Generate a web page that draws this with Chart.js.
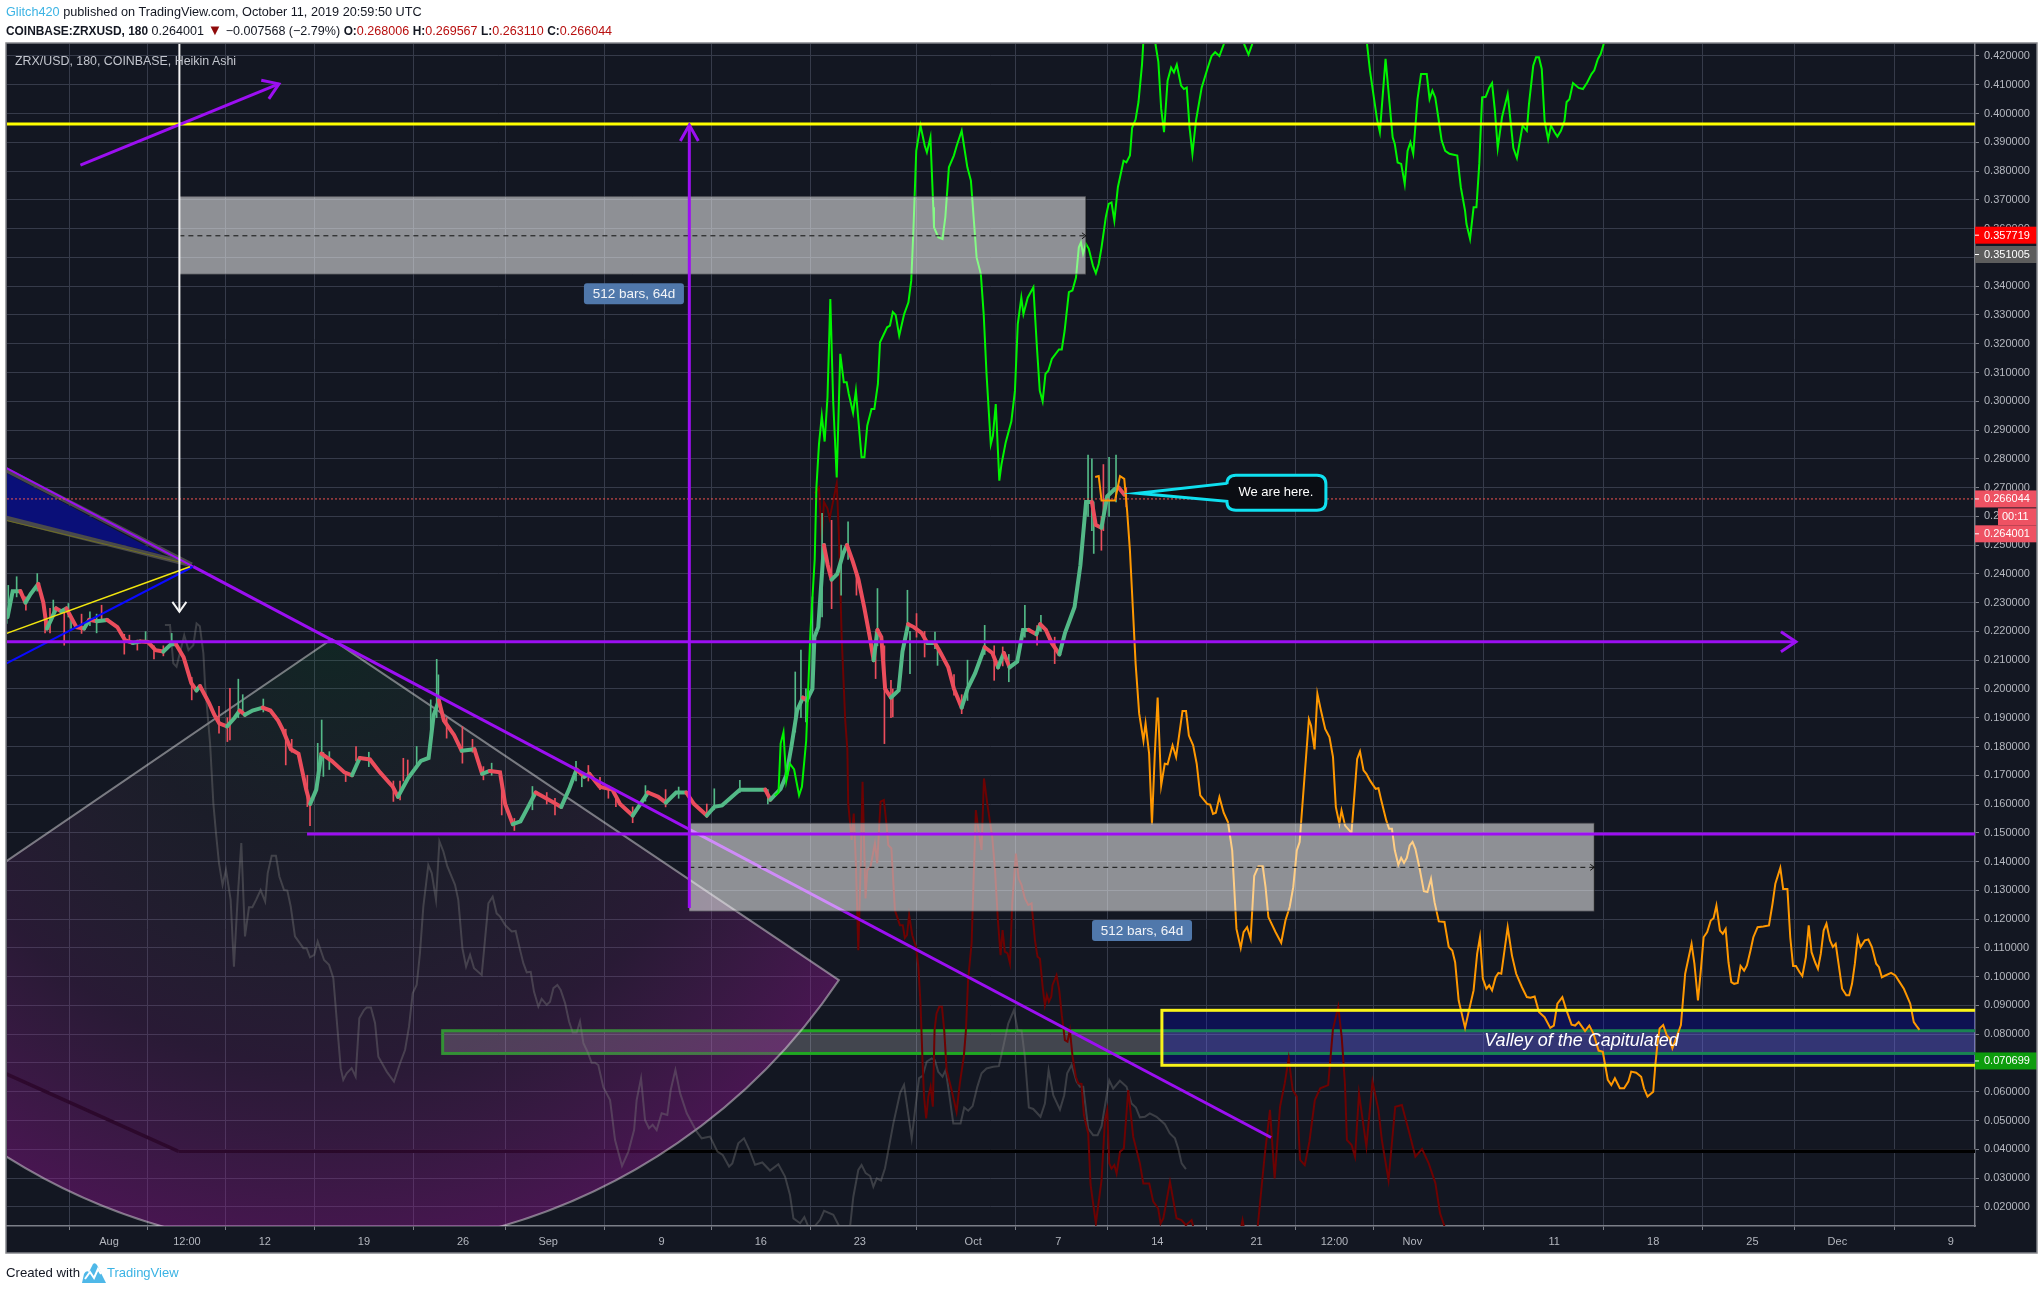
<!DOCTYPE html>
<html>
<head>
<meta charset="utf-8">
<title>ZRXUSD</title>
<script src="https://cdn.jsdelivr.net/npm/chart.js@4"></script>
<style>
html, body { margin: 0; padding: 0; background: #fff; width: 2043px; height: 1290px; overflow: hidden; font-family: "Liberation Sans", Arial, sans-serif; }
#wrap { position: relative; width: 2043px; height: 1290px; }
canvas { position: absolute; left: 0; top: 0; }
.txt { position: absolute; white-space: nowrap; color: #131722; font-size: 12.7px; line-height: 16px; }
.txt b { font-weight: bold; }
.head { font-size: 12.55px; }
.head b { font-size: 11.9px; }
.blue { color: #3bb3e4; }
.red { color: #b80f0f; }
.tri { color: #8f0a0a; font-size: 15px; }
#title { left: 15px; top: 53px; color: #c3c6ce; font-size: 12.4px; }
</style>
</head>
<body>
<div id="wrap">
<canvas id="chart" width="2043" height="1290"></canvas>
<div class="txt" style="left:6px;top:4px"><span class="blue">Glitch420</span> published on TradingView.com, October 11, 2019 20:59:50 UTC</div>
<div class="txt head" style="left:6px;top:22px"><b>COINBASE:ZRXUSD, 180</b> 0.264001 <span class="tri">▼</span> −0.007568 (−2.79%) <b>O:</b><span class="red">0.268006</span> <b>H:</b><span class="red">0.269567</span> <b>L:</b><span class="red">0.263110</span> <b>C:</b><span class="red">0.266044</span></div>
<div class="txt" id="title">ZRX/USD, 180, COINBASE, Heikin Ashi</div>
<div class="txt" style="left:6px;top:1265px;font-size:13.2px">Created with</div>
<svg style="position:absolute;left:82px;top:1263px" width="24" height="20" viewBox="0 0 24 20"><path d="M0 20 L2 11 Q4 7 7 9 L11 1 Q13 -1 15 2 L24 20 Z" fill="#4fb8e8"/><path d="M3 16 L8 9 L12 15 L16 6 L19 11" fill="none" stroke="#fff" stroke-width="2"/></svg>
<div class="txt blue" style="left:107px;top:1265px;font-size:13px">TradingView</div>
</div>
<script>
// x values are bar positions counted in days from 1 Aug 2019, y values are prices
const xTickDays = [0, 5.49, 10.98, 17.96, 24.94, 30.93, 38.91, 45.9, 52.88, 60.86, 66.85, 73.83, 80.82, 86.3, 91.79, 101.77, 108.75, 115.74, 121.72, 129.71];
const xTickLabels = ["Aug", "12:00", "12", "19", "26", "Sep", "9", "16", "23", "Oct", "7", "14", "21", "12:00", "Nov", "11", "18", "25", "Dec", "9"];
const yTickValues = [0.02, 0.03, 0.04, 0.05, 0.06, 0.07, 0.08, 0.09, 0.10, 0.11, 0.12, 0.13, 0.14, 0.15, 0.16, 0.17, 0.18, 0.19, 0.20, 0.21, 0.22,
    0.23, 0.24, 0.25, 0.26, 0.27, 0.28, 0.29, 0.30, 0.31, 0.32, 0.33, 0.34, 0.35, 0.36, 0.37, 0.38, 0.39, 0.40, 0.41, 0.42];

const candleDays = [-7.14, -6.78, -6.24, -5.88, -5.52, -4.98, -4.62, -4.37, -4.08, -3.72,
    -3.36, -3, -2.29, -1.75, -1.39, -0.85, -0.13, 0.59, 1.13, 1.67,
    2.2, 2.75, 3.28, 3.83, 4.37, 4.72, 5.26, 5.8, 6.16, 6.41,
    7.06, 7.42, 7.77, 8.31, 8.85, 9.21, 9.57, 10.11, 10.83, 11.37,
    11.91, 12.27, 12.81, 13.35, 13.89, 14.17, 14.6, 14.96, 15.68, 16.58,
    17.12, 17.66, 18.38, 19.09, 19.99, 20.35, 21.07, 21.97, 22.51, 22.87,
    23.23, 23.59, 24.3, 24.84, 25.74, 26.28, 26.82, 27.54, 27.9, 28.44,
    28.98, 29.52, 30.05, 30.59, 31.31, 31.85, 32.39, 32.93, 33.47, 33.83,
    34.55, 35.45, 35.99, 36.88, 37.42, 37.96, 38.68, 39.22, 39.94, 40.66,
    41.2, 42.1, 42.63, 43.17, 44.43, 45.15, 46.22, 46.58, 47.3, 47.7,
    48.06, 48.46, 48.87, 49.14, 49.54, 49.68, 49.95, 50.35, 50.62, 50.89,
    51.29, 51.7, 51.97, 52.37, 52.78, 53.18, 53.58, 53.85, 54.12, 54.39,
    54.66, 55.07, 55.61, 55.88, 56.28, 56.68, 57.22, 57.63, 58.17, 58.57,
    59.11, 59.51, 60.05, 60.46, 61, 61.67, 62.21, 62.61, 63.02, 63.42,
    63.96, 64.37, 64.77, 65.31, 65.58, 65.98, 66.39, 66.93, 67.33, 68,
    68.41, 68.81, 69.22, 69.49, 69.89, 70.3, 70.83, 71.1, 71.51];
const candleClose = [.225, .234, .234, .23, .233, .2365, .23, .221, .224, .228,
    .227, .228, .2215, .221, .224, .2235, .224, .2215, .217, .216,
    .2165, .2163, .2135, .213, .2155, .2155, .211, .202, .1995, .201,
    .195, .191, .188, .187, .19, .1925, .191, .1925, .1935, .1925,
    .189, .1855, .179, .1775, .165, .16, .165, .1775, .175, .171,
    .17, .176, .1755, .171, .166, .1625, .169, .175, .176, .191,
    .196, .189, .184, .1785, .179, .1705, .1715, .171, .16, .153,
    .154, .159, .164, .1625, .1605, .159, .165, .172, .1695, .1705,
    .166, .165, .16, .156, .16, .164, .1625, .1605, .164, .164,
    .16, .156, .159, .1595, .165, .165, .165, .1615, .1653, .17,
    .18, .1925, .197, .196, .20, .218, .2215, .25, .243, .238,
    .24, .247, .25, .2445, .238, .2285, .218, .21, .2205, .218,
    .20, .197, .1995, .213, .2225, .2215, .2195, .216, .216, .2125,
    .2075, .20, .1935, .20, .2055, .2145, .2125, .2075, .2125, .2075,
    .2095, .2205, .2205, .219, .2225, .2205, .216, .212, .2195, .2285,
    .243, .265, .265, .257, .256, .267, .2695, .27, .2675];

const wickDays = [-7.2, -7.09, -6.5, -5.85, -5.05, -4.5, -4.15, -3.92, -3.15, -2.86,
    -2.67, -1.93, -1.34, -0.87, -0.52, 1.08, 1.44, 2, 2.58, 3.17,
    3.83, 4.42, 5.83, 7.75, 8.34, 8.52, 9.11, 9.42, 10.87, 12.45,
    12.87, 13.97, 14.16, 14.7, 14.98, 15.1, 15.52, 16.67, 17.4, 18.3,
    20.03, 20.5, 20.73, 21.04, 21.67, 22.66, 23.08, 23.2, 23.78, 24.89,
    25.6, 26.37, 26.95, 27.66, 28.55, 29.82, 30.83, 31.41, 32.89, 33.3,
    33.76, 34.58, 35.17, 35.7, 36.88, 37.78, 39.2, 40.12, 42.1, 42.63,
    44.43, 46.4, 48.33, 48.73, 49.08, 49.54, 50.22, 50.89, 51.56, 52.05,
    52.64, 53.99, 54.12, 54.61, 55.07, 55.2, 56.23, 56.41, 56.87, 57.44,
    58.17, 58.35, 59.51, 60.05, 60.46, 61.67, 62.34, 62.94, 63.37, 64.5,
    65.36, 65.63, 66.6, 68.95, 69.22, 69.35, 69.89, 70.03, 70.43, 70.92, 71.64];
const wickHigh = [.228, .236, .239, .232, .2401, .226, .228, .2309, .2265, .2297,
    .225, .226, .2268, .226, .2291, .219, .2187, .217, .2199, .215,
    .215, .2193, .204, .194, .19, .2002, .2034, .198, .1965, .186,
    .1825, .17, .162, .1811, .1892, .178, .1782, .171, .18, .178,
    .168, .168, .1759, .1753, .18, .1962, .2103, .2049, .19, .1869,
    .1825, .173, .1742, .168, .155, .1661, .164, .162, .1748, .17,
    .1734, .1693, .1665, .163, .159, .1664, .165, .1659, .16, .1653,
    .1682, .165, .2059, .2135, .2, .232, .261, .2586, .25, .2581,
    .24, .22, .2349, .215, .203, .2, .2343, .22, .2262, .22,
    .2198, .215, .205, .198, .21, .2221, .215, .2146, .212, .2291,
    .222, .2256, .218, .2813, .28, .265, .26, .278, .2805, .2813, .27];
const wickLow = [.2228, .228, .232, .2274, .234, .2195, .2195, .225, .2152, .225,
    .221, .2193, .222, .2195, .224, .2121, .216, .2135, .216, .2104,
    .2115, .215, .1962, .1846, .1817, .1823, .19, .192, .192, .1736,
    .178, .1591, .1525, .17, .175, .1696, .172, .1678, .175, .173,
    .1609, .1614, .168, .169, .173, .18, .19, .195, .1829, .1742,
    .178, .1684, .17, .1562, .1508, .158, .16, .1562, .168, .166,
    .168, .165, .162, .1591, .1535, .161, .159, .162, .1553, .158,
    .164, .16, .185, .19, .1885, .2, .225, .2279, .2326, .245,
    .2326, .2036, .215, .181, .19, .1903, .22, .2053, .218, .2111,
    .214, .2082, .1978, .1914, .196, .212, .203, .208, .2025, .218,
    .2152, .22, .2088, .26, .255, .2471, .2482, .255, .26, .265, .2633];

const greenDays = [46.9, 47.15, 47.3, 47.5, 47.7, 47.95, 48.25, 48.6, 48.8, 49.1, 49.4, 49.7, 49.82, 50, 50.2, 50.4, 50.6, 50.8, 51, 51.25,
    51.5, 51.75, 51.95, 52.1, 52.4, 52.6, 53, 53.2, 53.4, 53.7, 53.9, 54.15, 54.3, 54.8, 55, 55.2, 55.4, 55.65, 56, 56.3,
    56.5, 56.65, 56.85, 57.15, 57.45, 57.6, 57.85, 58.05, 58.1, 58.4, 58.7, 58.9, 59.15, 59.5, 59.7, 60.05, 60.45, 60.7, 61.1, 61.4,
    61.6, 61.8, 62.1, 62.25, 62.45, 62.7, 62.85, 63.15, 63.55, 63.8, 64, 64.25, 64.4, 64.7, 65.1, 65.35, 65.55, 65.75, 65.95, 66.15,
    66.4, 66.9, 67.1, 67.3, 67.6, 67.85, 68.1, 68.3, 68.45, 68.6, 68.8, 69, 69.3, 69.5, 69.7, 69.9, 70.2, 70.4, 70.6, 70.8,
    71.05, 71.45, 71.65, 71.9, 72.05, 72.3, 72.5, 72.75, 72.9, 73.3, 73.7, 73.9, 74.1, 74.3, 74.55, 74.8, 75, 75.2, 75.5, 75.7,
    75.9, 76.1, 76.3, 76.55, 76.95, 77.35, 77.65, 77.9, 78.2, 78.5, 79, 79.6, 79.95, 80.25, 80.5, 81, 88.2, 88.6, 88.8, 89.3,
    89.5, 89.9, 90.4, 90.55, 90.75, 91, 91.25, 91.45, 91.65, 91.85, 92.15, 92.4, 92.8, 93, 93.2, 93.4, 93.65, 93.85, 94.1, 94.4,
    94.95, 95.2, 95.5, 95.6, 95.85, 96.1, 96.3, 96.5, 96.7, 96.95, 97.2, 97.4, 97.6, 97.8, 98.1, 98.5, 98.7, 98.9, 99.15, 99.55,
    99.85, 100, 100.3, 100.5, 100.7, 100.9, 101.1, 101.35, 101.55, 101.8, 102, 102.25, 102.5, 102.65, 102.85, 103.1, 103.5, 103.8, 104.1, 104.4,
    104.6, 104.85, 105.05, 105.25, 105.6];
const greenPrices = [.163, .164, .181, .185, .168, .174, .172, .163, .166, .182, .22, .245, .27, .285, .295, .286, .3014, .3355, .30, .2735,
    .3165, .3066, .3066, .3025, .296, .3036, .2805, .2805, .2915, .2973, .2973, .306, .3205, .3257, .3263, .331, .33, .3228, .3303, .3344,
    .342, .3593, .387, .3958, .3888, .3865, .3917, .3674, .3605, .357, .3564, .364, .3813, .3854, .3888, .394, .3813, .3767, .35, .3442,
    .3303, .3095, .285, .288, .299, .2724, .278, .2857, .293, .3036, .3268, .336, .3303, .336, .3396, .3187, .3036, .30, .3095, .3106,
    .3147, .318, .318, .3245, .3379, .3385, .343, .3535, .3552, .3512, .3547, .353, .347, .3445, .3477, .3535, .364, .3686, .3691, .3628,
    .3744, .3836, .383, .3854, .395, .398, .404, .417, .43, .45, .424, .418, .4016, .3935, .4114, .416, .4143, .417, .4097, .4085,
    .409, .395, .386, .3975, .409, .4155, .42, .4213, .42, .424, .44, .44, .424, .4205, .424, .45, .45, .424, .415, .398,
    .3935, .419, .3917, .3894, .383, .3825, .3755, .387, .39, .386, .405, .4137, .4137, .405, .408, .4056, .3975, .3906, .387, .386,
    .3854, .3744, .3662, .3616, .3564, .3674, .3674, .3825, .4056, .4058, .409, .4106, .401, .388, .3987, .4068, .3975, .388, .3845, .3958,
    .394, .4033, .4166, .4196, .4196, .4155, .3975, .391, .3958, .3935, .392, .394, .3975, .404, .405, .4106, .4089, .4085, .4108, .4137,
    .415, .419, .4207, .424, .45];

const orangeDays = [69.45, 69.7, 69.9, 70.85, 71.2, 71.5, 71.7, 71.9, 72.1, 72.3, 72.55, 72.85, 73, 73.25, 73.45, 73.65, 73.85, 74.1, 74.35, 74.55,
    74.9, 75.15, 75.6, 75.85, 76.05, 76.35, 76.6, 76.85, 77.35, 77.55, 77.75, 77.95, 78.2, 78.5, 78.8, 79.1, 79.4, 79.7, 79.9, 80.15,
    80.4, 80.65, 80.95, 81.25, 81.45, 81.65, 82.15, 82.55, 82.85, 83.15, 83.4, 83.65, 83.85, 84.05, 84.5, 84.65, 84.9, 85.1, 85.35, 85.65,
    85.95, 86.2, 86.4, 86.65, 86.8, 87.05, 87.5, 87.9, 88.1, 88.35, 88.55, 88.8, 89.2, 89.4, 89.6, 89.95, 90.15, 90.35, 90.55, 90.8,
    91, 91.2, 91.4, 91.6, 91.8, 92, 92.3, 92.6, 92.85, 93.1, 93.35, 93.65, 94.05, 94.35, 94.6, 94.8, 95.05, 95.5, 95.75, 96.1,
    96.35, 96.55, 96.75, 97, 97.2, 97.4, 97.65, 97.85, 98.05, 98.5, 98.8, 99.1, 99.5, 99.85, 100.1, 100.4, 100.7, 101.1, 101.5, 101.75,
    102, 102.35, 102.6, 103, 103.25, 103.5, 103.95, 104.25, 104.55, 104.9, 105.2, 105.55, 105.8, 106.05, 106.4, 106.7, 107, 107.2, 107.55, 107.9,
    108.1, 108.35, 108.75, 108.9, 109.05, 109.2, 109.45, 109.7, 109.9, 110.1, 110.4, 110.7, 111, 111.45, 111.65, 111.9, 112.1, 112.3, 112.55, 112.8,
    113, 113.2, 113.45, 113.65, 113.85, 114.05, 114.25, 114.45, 114.7, 114.9, 115.15, 115.35, 115.6, 115.8, 116.1, 116.5, 116.9, 117.15, 117.35, 117.7,
    117.9, 118.2, 118.4, 118.6, 118.8, 119.05, 119.25, 119.5, 119.7, 119.9, 120.15, 120.35, 120.55, 120.75, 120.95, 121.2, 121.4, 121.6, 121.8, 122.05,
    122.35, 122.55, 122.75, 122.95, 123.15, 123.35, 123.65, 123.9, 124.15, 124.45, 124.65, 124.85, 125.1, 125.5, 125.8, 126.1, 126.4, 126.6, 126.85, 127.1,
    127.3, 127.5];
const orangePrices = [.2737, .274, .2655, .2655, .274, .273, .262, .248, .2285, .2087, .1914, .182, .188, .1775, .153, .1775, .197, .1665, .174, .1738,
    .1804, .1763, .1923, .1923, .1838, .1804, .174, .163, .16, .1598, .1566, .157, .1624, .157, .1537, .1439, .1166, .11, .1155, .1172,
    .1132, .135, .1384, .1384, .1311, .1207, .1155, .1118, .1195, .1242, .1311, .1439, .1468, .16, .1894, .1873, .179, .1983, .1925, .1861,
    .1833, .1763, .1589, .1531, .1578, .1525, .15, .1757, .1783, .1717, .1705, .1682, .1653, .1655, .1612, .1543, .1514, .1514, .1439, .1389,
    .1413, .1395, .1413, .1456, .1468, .1444, .1375, .1297, .1294, .134, .1259, .1192, .119, .1103, .1091, .105, .0917, .0822, .0877, .0952,
    .1079, .1137, .0993, .0958, .097, .0952, .0998, .1013, .101, .1172, .1074, .101, .0964, .0929, .0927, .0931, .0877, .0859, .0822, .083,
    .0906, .0929, .0889, .0833, .083, .0842, .0811, .083, .0801, .0743, .0739, .0641, .0623, .0647, .0612, .0612, .0635, .067, .0666, .0652,
    .0612, .0583, .06, .0693, .0768, .082, .0832, .0797, .0786, .0751, .0791, .0832, .101, .1114, .1045, .0917, .1021, .1137, .1155, .1195,
    .1203, .1247, .116, .1149, .1166, .105, .0981, .0975, .0978, .1037, .1021, .1039, .1091, .1137, .1172, .1174, .1178, .1253, .1323, .1378,
    .1305, .1305, .1137, .1037, .1037, .1016, .1002, .1068, .1178, .1085, .105, .1027, .1079, .116, .1184, .1126, .1103, .1114, .1045, .0958,
    .0935, .0935, .0975, .1045, .1137, .1103, .1126, .1129, .1103, .1045, .1033, .0998, .1004, .1013, .1004, .0981, .0958, .0935, .0906, .0842,
    .0828, .0815];

const darkRedDays = [49.7, 50, 50.2, 50.35, 50.6, 50.75, 51.25, 51.4, 51.6, 51.85, 52, 52.06, 52.3, 52.45, 52.6, 52.77, 52.93, 53.07, 53.28, 53.4,
    53.63, 53.94, 54.1, 54.34, 54.57, 54.76, 54.88, 55.1, 55.35, 55.7, 55.9, 56.05, 56.2, 56.35, 56.57, 56.83, 57, 57.15, 57.3, 57.4,
    57.55, 57.7, 57.86, 58.02, 58.14, 58.28, 58.47, 58.66, 58.82, 58.99, 59.34, 59.69, 59.92, 60.2, 60.35, 60.5, 60.75, 60.91, 61.05, 61.2,
    61.45, 61.62, 61.85, 62.2, 62.4, 62.6, 62.79, 62.93, 63.09, 63.28, 63.45, 63.61, 63.87, 64.06, 64.27, 64.5, 64.74, 64.97, 65.21, 65.39,
    65.56, 65.75, 65.91, 66.05, 66.19, 66.36, 66.45, 66.73, 66.92, 67.1, 67.32, 67.5, 67.67, 67.86, 68.09, 68.26, 68.49, 68.66, 68.96, 69.13,
    69.5, 69.9, 70.14, 70.3, 70.44, 70.6, 70.8, 70.96, 71.2, 71.47, 71.78, 72.13, 72.6, 72.84, 73.26, 73.54, 73.89, 74.06, 74.25, 74.72,
    75.18, 75.53, 75.84, 76.24, 76.36, 76.7, 79.4, 79.83, 80.2, 80.6, 80.91, 81.38, 81.76, 82.09, 82.47, 82.8, 83.08, 83.36, 83.65, 83.88,
    84.21, 84.54, 84.92, 85.3, 85.86, 86.19, 86.57, 86.81, 87.04, 87.18, 87.51, 87.75, 88.03, 88.55, 88.98, 89.4, 89.64, 90.11, 90.58, 91.05,
    91.52, 92, 92.47, 92.94, 93.41, 93.74, 94.02, 94.5];
const darkRedPrices = [.268, .27, .2517, .265, .2627, .2592, .2714, .254, .218, .189, .179, .1602, .1475, .1567, .1394, .1092, .137, .1677, .1272, .137,
    .1382, .1463, .1394, .1608, .1614, .1527, .1457, .1446, .1231, .1179, .1179, .1135, .1144, .1214, .1144, .1104, .1034, .0907, .0698, .0583,
    .0507, .0583, .0617, .0548, .0814, .0872, .0895, .0895, .0814, .0675, .0606, .053, .0629, .0722, .0814, .0988, .1116, .137, .1579, .1521,
    .144, .1689, .1602, .1486, .137, .1197, .1075, .1162, .1087, .1081, .1046, .1255, .1428, .1341, .1318, .1272, .1249, .1255, .1127, .1069,
    .1063, .0965, .0901, .0936, .0913, .093, .0971, .1005, .0953, .0866, .0779, .0774, .0814, .0722, .0652, .0629, .0627, .0519, .0455, .0276,
    .0142, .0293, .0502, .0536, .0351, .0333, .0345, .0316, .0391, .0403, .0606, .0443, .0351, .0281, .0281, .0218, .0194, .0142, .016, .0287,
    .016, .0154, .0136, .0154, .013, .005, .005, .0154, .005, .005, .0137, .0374, .0537, .0299, .0548, .0629, .0716, .0606, .0583, .0363,
    .0345, .0427, .0571, .0612, .0623, .0815, .0896, .0791, .0629, .0432, .0415, .0374, .0594, .0409, .0635, .0537, .0432, .0293, .0548, .0554,
    .0467, .0374, .0401, .0351, .0282, .0177, .0137, .005];

const grayDays = [3.94, 4.3, 4.53, 4.76, 5.3, 5.6, 5.94, 6.17, 6.4, 6.65, 6.76, 7.12, 7.35, 7.54, 7.75, 8, 8.24, 8.57, 8.8, 9.07,
    9.32, 9.58, 9.86, 10.1, 10.36, 10.68, 11, 11.18, 11.46, 11.76, 12, 12.33, 12.56, 12.8, 13.1, 13.69, 13.92, 14.16, 14.46, 14.7,
    15.15, 15.5, 15.8, 16.04, 16.32, 16.5, 16.74, 17.09, 17.37, 17.63, 17.96, 18.15, 18.45, 18.74, 18.97, 19.56, 20.07, 20.5, 20.85, 21.13,
    21.39, 21.67, 21.9, 22.14, 22.49, 22.73, 23.03, 23.27, 23.55, 23.83, 24.37, 24.6, 24.89, 25.15, 25.43, 25.71, 26.25, 26.48, 26.72, 27.02,
    27.3, 27.54, 27.89, 28.36, 28.64, 28.95, 29.18, 29.42, 29.7, 29.93, 30.24, 30.47, 30.83, 31.06, 31.3, 31.58, 31.81, 32.12, 32.4, 32.66,
    32.94, 33.17, 33.41, 33.69, 33.99, 34.23, 34.46, 34.82, 35.29, 35.64, 36.13, 36.58, 36.98, 37.16, 37.47, 37.75, 38.03, 38.29, 38.57, 38.92,
    39.32, 39.56, 39.89, 40.22, 40.69, 41.39, 41.74, 42.33, 42.85, 43.22, 43.67, 43.9, 44.32, 44.72, 45.1, 45.5, 46.01, 46.55, 47.14, 47.61,
    47.96, 48.2, 48.67, 48.97, 49.25, 49.72, 50.07, 50.36, 51.01, 51.44, 51.7, 52.19, 52.42, 52.77, 53, 53.29, 53.6, 53.83, 54.07, 54.37,
    54.65, 54.89, 55.24, 55.71, 55.99, 56.53, 56.77, 57.05, 57.3, 57.59, 57.94, 58.16, 58.4, 58.7, 58.92, 59.1, 59.46, 59.97, 60.23, 60.51,
    60.82, 61.15, 61.45, 61.8, 62.27, 62.67, 62.98, 63.33, 63.73, 63.99, 64.27, 64.5, 64.78, 65.09, 65.6, 65.91, 66.17, 66.5, 66.97, 67.27,
    67.48, 67.79, 68.14, 68.38, 68.61, 68.96, 69.31, 69.62, 69.9, 70.44, 70.72, 71.19, 71.66, 72.01, 72.32, 72.6, 72.95, 73.3, 73.77, 74.36,
    74.71, 75.07, 75.3, 75.54, 75.84];
const grayPrices = [.2222, .2222, .2089, .2077, .2187, .2135, .2152, .2228, .2218, .2124, .202, .1811, .1603, .1498, .1394, .1319, .1371, .1267, .1035, .1278,
    .1464, .114, .1241, .1241, .1267, .1301, .1261, .136, .142, .142, .1348, .1301, .1299, .1244, .114, .1099, .1099, .1067, .1076, .1122,
    .1058, .1041, .0995, .085, .0682, .0641, .0664, .0682, .0653, .0855, .0884, .0893, .0893, .0838, .0722, .067, .0635, .0699, .0745, .0826,
    .0942, .0971, .1081, .1244, .1388, .136, .1267, .147, .1435, .1383, .1319, .1267, .1099, .1035, .1076, .1029, .1006, .1128, .1255, .1278,
    .122, .1209, .118, .1157, .1159, .1093, .1047, .1015, .1017, .0948, .0896, .0923, .0902, .0913, .096, .0971, .0954, .0908, .0844, .0806,
    .0806, .0844, .0769, .074, .0701, .0701, .0693, .0615, .0571, .0432, .0342, .0392, .0467, .0571, .0647, .0502, .0473, .0485, .0467, .0525,
    .0519, .0606, .0676, .0595, .0525, .0461, .0438, .0444, .0392, .038, .034, .0351, .0421, .0438, .0398, .0346, .0354, .0326, .0348, .0305,
    .0241, .016, .0143, .0164, .0131, .0134, .0154, .0186, .0172, .0131, .0096, .0131, .0235, .0328, .0345, .0317, .0307, .027, .0299, .0291,
    .0334, .0398, .049, .0595, .0624, .0438, .0537, .0647, .0655, .0705, .0716, .071, .0669, .0652, .0675, .0617, .049, .049, .0545, .0534,
    .055, .0617, .0664, .0681, .0687, .0689, .0756, .0837, .0884, .0814, .0812, .0722, .0545, .054, .0513, .0559, .0675, .0588, .0538, .0588,
    .0664, .0693, .0635, .0617, .0617, .0472, .0449, .0449, .048, .064, .0611, .0638, .0617, .0559, .0545, .0511, .0513, .0525, .0513, .0487,
    .0455, .0438, .0403, .0351, .0331];

const tagValues = [0.357719, 0.351005, 0.266044, 0.264001, 0.070699];
const tagColors = ["#ff0000", "#5d5d5d", "#ee5263", "#ee5263", "#0d9c0d"];
const tagShifts = [0, 0, 0, 29, 0];

const purple = "#9c0ff2";
const bg = "#131722";
const gridColor = "#363b4a";
const axisColor = "#7c7f88";
const tickText = "#b4b7bf";
const upColor = "#53b987";
const downColor = "#eb4d5c";
const font = '"Liberation Sans", Arial, sans-serif';

function points(days, values) {
    return days.map((d, i) => ({ x: d, y: values[i] }));
}

function wickColor(d) {
    let i = 0;
    while (i < candleDays.length - 1 && candleDays[i + 1] <= d) i++;
    let prev = i > 0 ? candleClose[i - 1] : candleClose[0];
    return candleClose[i] >= prev ? upColor : downColor;
}

const wickBars = wickDays.map((d, i) => ({ x: d, y: [wickLow[i], wickHigh[i]] }));

function seriesLine(days, values, color, order) {
    return { type: "line", data: points(days, values), borderColor: color, borderWidth: 2, pointRadius: 0, tension: 0, order: order };
}

// drawing helpers, everything goes through the chart scales
let X, Y;

function strokeLine(ctx, d0, p0, d1, p1, color, width, dash) {
    ctx.beginPath();
    ctx.moveTo(X(d0), Y(p0));
    ctx.lineTo(X(d1), Y(p1));
    ctx.strokeStyle = color;
    ctx.lineWidth = width;
    ctx.setLineDash(dash || []);
    ctx.stroke();
    ctx.setLineDash([]);
}

function arrowHead(ctx, d0, p0, d1, p1, color, width, len, half) {
    let x1 = X(d1), y1 = Y(p1);
    let a = Math.atan2(y1 - Y(p0), x1 - X(d0));
    ctx.beginPath();
    ctx.moveTo(x1 - len * Math.cos(a) + half * Math.sin(a), y1 - len * Math.sin(a) - half * Math.cos(a));
    ctx.lineTo(x1, y1);
    ctx.lineTo(x1 - len * Math.cos(a) - half * Math.sin(a), y1 - len * Math.sin(a) + half * Math.cos(a));
    ctx.strokeStyle = color;
    ctx.lineWidth = width;
    ctx.stroke();
}

function fillBox(ctx, d0, d1, top, bottom, color) {
    ctx.fillStyle = color;
    ctx.fillRect(X(d0), Y(top), X(d1) - X(d0), Y(bottom) - Y(top));
}

function polygon(ctx, pts, color) {
    ctx.beginPath();
    pts.forEach((p, i) => { if (i === 0) ctx.moveTo(X(p[0]), Y(p[1])); else ctx.lineTo(X(p[0]), Y(p[1])); });
    ctx.closePath();
    ctx.fillStyle = color;
    ctx.fill();
}

function clipPlot(ctx, chart) {
    let a = chart.chartArea;
    ctx.beginPath();
    ctx.rect(a.left, a.top, a.right - a.left, a.bottom - a.top);
    ctx.clip();
}

function drawWedge(ctx) {
    // sector is round on screen, radius taken from the apex and the right rim point
    let apex = [15.68, 0.2173], right = [51.4, 0.0988], left = [-19.9, 0.0974];
    let ax = X(apex[0]), ay = Y(apex[1]);
    let r = Math.hypot(X(right[0]) - ax, Y(right[1]) - ay);
    let a0 = Math.atan2(Y(right[1]) - ay, X(right[0]) - ax);
    let a1 = Math.atan2(Y(left[1]) - ay, X(left[0]) - ax);
    let g = ctx.createRadialGradient(ax, ay, 0, ax, ay, r);
    g.addColorStop(0, "rgba(0,150,50,0.12)");
    g.addColorStop(0.35, "rgba(120,100,120,0.08)");
    g.addColorStop(0.7, "rgba(140,40,140,0.18)");
    g.addColorStop(1, "rgba(150,20,150,0.4)");
    ctx.beginPath();
    ctx.moveTo(ax, ay);
    ctx.arc(ax, ay, r, a0, a1);
    ctx.closePath();
    ctx.fillStyle = g;
    ctx.fill();
    ctx.strokeStyle = "rgba(255,255,255,0.42)";
    ctx.lineWidth = 2;
    ctx.stroke();
}

function drawGrayBox(ctx, d0, d1, top, bottom, mid) {
    fillBox(ctx, d0, d1, top, bottom, "rgba(255,255,255,0.52)");
    strokeLine(ctx, d0, top, d1, top, "rgba(90,90,95,0.7)", 1);
    strokeLine(ctx, d0, bottom, d1, bottom, "rgba(90,90,95,0.7)", 1);
    strokeLine(ctx, d1, top, d1, bottom, "rgba(20,20,20,0.7)", 1);
    strokeLine(ctx, d0, mid, d1, mid, "#111", 1, [5, 4]);
    arrowHead(ctx, d0, mid, d1, mid, "#111", 1, 4, 3);
}

function drawBarsLabel(ctx, d, p) {
    let x = X(d), y = Y(p);
    ctx.beginPath();
    ctx.roundRect(x - 50, y - 10.5, 100, 21, 3);
    ctx.fillStyle = "#5078ab";
    ctx.fill();
    ctx.fillStyle = "#f2f4f8";
    ctx.font = "13.5px " + font;
    ctx.textAlign = "center";
    ctx.textBaseline = "middle";
    ctx.fillText("512 bars, 64d", x, y + 0.5);
}

function drawCallout(ctx, d, p) {
    let x = X(d), y = Y(p);
    let l = x + 89, r = x + 188, t = y - 18, b = y + 17, c = 9;
    ctx.beginPath();
    ctx.moveTo(x, y);
    ctx.lineTo(l, y - 10);
    ctx.lineTo(l, t + c);
    ctx.quadraticCurveTo(l, t, l + c, t);
    ctx.lineTo(r - c, t);
    ctx.quadraticCurveTo(r, t, r, t + c);
    ctx.lineTo(r, b - c);
    ctx.quadraticCurveTo(r, b, r - c, b);
    ctx.lineTo(l + c, b);
    ctx.quadraticCurveTo(l, b, l, b - c);
    ctx.lineTo(l, y + 8);
    ctx.closePath();
    ctx.fillStyle = "#0b0d13";
    ctx.fill();
    ctx.strokeStyle = "#0fe0f0";
    ctx.lineWidth = 3;
    ctx.stroke();
    ctx.fillStyle = "#ffffff";
    ctx.font = "13px " + font;
    ctx.textAlign = "center";
    ctx.textBaseline = "middle";
    ctx.fillText("We are here.", x + 138, y - 1);
}

function drawTag(ctx, y, left, text, color, h, mark) {
    let right = 2037;
    ctx.fillStyle = color;
    ctx.fillRect(left, y - h / 2, right - left, h);
    if (mark) {
        ctx.fillStyle = "#fff";
        ctx.fillRect(left, y - 0.5, 4, 1);
    }
    ctx.fillStyle = "#fff";
    ctx.font = "11px " + font;
    ctx.textAlign = "left";
    ctx.textBaseline = "middle";
    ctx.fillText(text, mark ? 1984 : left + 4, y + 0.5);
}

const dMin = -7.18, dMax = 131.41;

const annotations = {
    id: "annotations",
    beforeDraw(chart) {
        let ctx = chart.ctx;
        ctx.fillStyle = bg;
        ctx.fillRect(6, 43, 2031, 1210);
    },
    beforeDatasetsDraw(chart) {
        let ctx = chart.ctx;
        X = v => chart.scales.x.getPixelForValue(v);
        Y = v => chart.scales.y.getPixelForValue(v);
        ctx.save();
        clipPlot(ctx, chart);
        // black support under the wedge
        strokeLine(ctx, -7.6, 0.067, 4.9, 0.0393, "#000", 3.5);
        strokeLine(ctx, 4.9, 0.0393, dMax, 0.0393, "#000", 3.5);
        // green box runs to the price axis
        fillBox(ctx, 23.5, dMax + 1, 0.0812, 0.0733, "rgba(255,255,255,0.2)");
        ctx.strokeStyle = "#20a822";
        ctx.lineWidth = 3;
        ctx.strokeRect(X(23.5), Y(0.0812), X(dMax + 2) - X(23.5), Y(0.0733) - Y(0.0812));
        drawWedge(ctx);
        // valley box
        fillBox(ctx, 74.15, dMax + 1, 0.0883, 0.0692, "rgba(0,0,255,0.22)");
        // old wedge at the left edge
        polygon(ctx, [[-7.6, 0.2761], [-7.6, 0.2604], [3.8, 0.2466]], "#0a0f78");
        strokeLine(ctx, -7.6, 0.2771, 5.82, 0.2431, "#4a4a4c", 5);
        strokeLine(ctx, -7.6, 0.2598, 5.82, 0.2431, "#4a4a4c", 5);
        strokeLine(ctx, -7.6, 0.259, 5.82, 0.2431, "#6e6e22", 1);
        ctx.restore();
    },
    afterDatasetsDraw(chart) {
        let ctx = chart.ctx;
        ctx.save();
        clipPlot(ctx, chart);
        // main downtrend, also the thin top edge of the old wedge
        strokeLine(ctx, -7.6, 0.2778, 5.94, 0.2425, purple, 2);
        strokeLine(ctx, 5.94, 0.2425, 81.84, 0.0441, purple, 3);
        strokeLine(ctx, -7.6, 0.2079, 5.9, 0.2425, "#0a0aff", 2.2);
        strokeLine(ctx, -7.6, 0.2186, 5.7, 0.2425, "#f2e60f", 1.5);

        drawGrayBox(ctx, 4.96, 68.8, 0.3711, 0.3442, 0.3575);
        drawGrayBox(ctx, 40.87, 104.6, 0.1533, 0.1228, 0.138);

        // valley box frame
        ctx.strokeStyle = "#f9f21a";
        ctx.lineWidth = 3;
        ctx.strokeRect(X(74.15), Y(0.0883), X(dMax + 2) - X(74.15), Y(0.0692) - Y(0.0883));
        ctx.fillStyle = "#ffffff";
        ctx.font = "italic 18px " + font;
        ctx.textAlign = "center";
        ctx.textBaseline = "middle";
        ctx.fillText("Valley of the Capitulated", X(103.7), Y(0.0777));

        // levels
        strokeLine(ctx, dMin, 0.3964, dMax, 0.3964, "#ffff00", 3);
        strokeLine(ctx, dMin, 0.2164, 118.8, 0.2164, purple, 3);
        arrowHead(ctx, dMin, 0.2164, 118.8, 0.2164, purple, 3, 15, 10);
        strokeLine(ctx, 13.95, 0.1496, dMax, 0.1496, purple, 3);
        strokeLine(ctx, dMin, 0.266044, dMax, 0.266044, "#ef5350", 1, [2, 2]);

        // arrows
        strokeLine(ctx, 40.87, 0.1239, 40.87, 0.396, purple, 3);
        arrowHead(ctx, 40.87, 0.1239, 40.87, 0.396, purple, 3, 16, 9);
        strokeLine(ctx, -2.01, 0.3821, 11.97, 0.4103, purple, 3);
        arrowHead(ctx, -2.01, 0.3821, 11.97, 0.4103, purple, 3, 15, 10);
        strokeLine(ctx, 4.96, 0.43, 4.96, 0.2268, "#f4f4f4", 2);
        arrowHead(ctx, 4.96, 0.43, 4.96, 0.2268, "#f4f4f4", 2, 10, 7);

        drawBarsLabel(ctx, 36.97, 0.3374);
        drawBarsLabel(ctx, 72.75, 0.116);
        drawCallout(ctx, 72.46, 0.268);
        ctx.restore();
    },
    afterDraw(chart) {
        let ctx = chart.ctx;
        ctx.save();
        tagValues.forEach((v, i) => {
            drawTag(ctx, Y(v) + tagShifts[i], 1975, v.toFixed(6), tagColors[i], 17, true);
        });
        drawTag(ctx, Y(0.264001) + 12, 1998, "00:11", "#ee5263", 17, false);
        // outer frame
        ctx.strokeStyle = "#85878c";
        ctx.lineWidth = 1.5;
        ctx.strokeRect(6, 43, 2031, 1210);
        ctx.restore();
    }
};

new Chart(document.getElementById("chart"), {
    type: "line",
    data: {
        datasets: [
            seriesLine(orangeDays, orangePrices, "#ff9800", 1),
            seriesLine(greenDays, greenPrices, "#00f500", 1),
            {
                // bars are too dense to read one by one, closes drawn as a ribbon coloured by direction
                type: "line", data: points(candleDays, candleClose), order: 2, borderWidth: 4,
                pointRadius: 0, tension: 0, borderColor: upColor, borderCapStyle: "round",
                segment: { borderColor: ctx => ctx.p1.parsed.y >= ctx.p0.parsed.y ? upColor : downColor }
            },
            {
                type: "bar", data: wickBars, order: 3, grouped: false, barThickness: 1,
                borderWidth: 0, backgroundColor: wickDays.map(d => wickColor(d))
            },
            seriesLine(darkRedDays, darkRedPrices, "#6d0202", 4),
            seriesLine(grayDays, grayPrices, "rgba(125,125,125,0.38)", 5)
        ]
    },
    options: {
        responsive: false,
        animation: false,
        devicePixelRatio: 1,
        layout: { padding: { left: 7, top: 44, right: 8, bottom: 37 } },
        plugins: { legend: { display: false }, tooltip: { enabled: false } },
        events: [],
        scales: {
            x: {
                type: "linear",
                min: dMin,
                max: dMax,
                offset: false,
                afterFit: axis => { axis.height = 27; },
                afterBuildTicks: axis => { axis.ticks = xTickDays.map(v => ({ value: v })); },
                grid: { color: gridColor, tickColor: axisColor, tickLength: 4, lineWidth: 1 },
                border: { color: axisColor, width: 1.5 },
                ticks: {
                    color: tickText, font: { size: 11, family: font }, padding: 5,
                    maxRotation: 0, autoSkip: false,
                    callback: (v, i) => xTickLabels[i]
                }
            },
            y: {
                type: "linear",
                position: "right",
                min: 0.01333,
                max: 0.42417,
                afterFit: axis => { axis.width = 60; },
                afterBuildTicks: axis => { axis.ticks = yTickValues.map(v => ({ value: v })); },
                grid: { color: gridColor, tickColor: axisColor, tickLength: 4, lineWidth: 1 },
                border: { color: axisColor, width: 1.5 },
                ticks: {
                    color: tickText, font: { size: 11, family: font }, padding: 5,
                    autoSkip: false,
                    callback: v => v.toFixed(6)
                }
            }
        }
    },
    plugins: [annotations]
});
</script>
</body>
</html>
